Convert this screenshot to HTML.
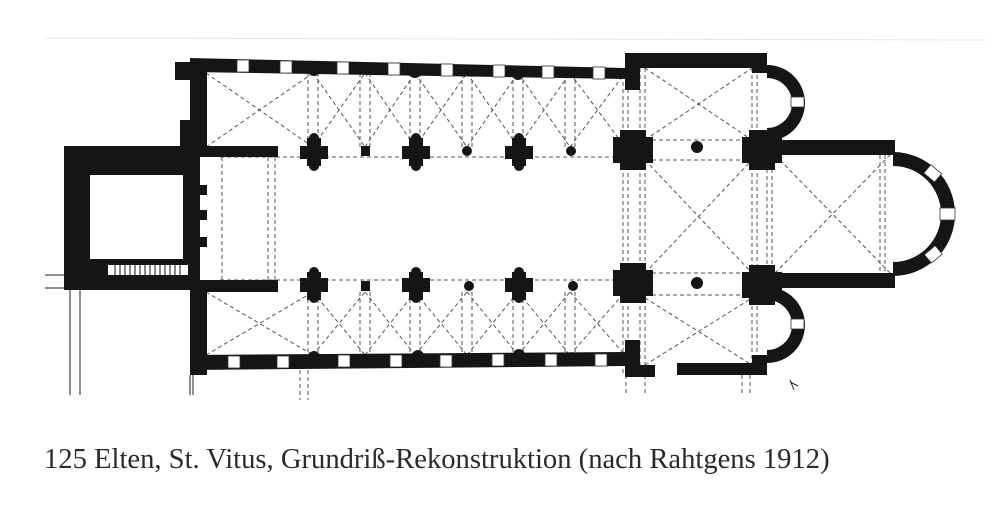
<!DOCTYPE html>
<html><head><meta charset="utf-8"><style>
html,body{margin:0;padding:0;background:#fff;width:1000px;height:517px;overflow:hidden}
svg{position:absolute;left:0;top:0}
.cap{position:absolute;left:44px;top:444px;font-family:"Liberation Serif",serif;font-size:28.6px;color:#2a2a2a;white-space:nowrap}
</style></head><body>
<svg width="1000" height="517" viewBox="0 0 1000 517">
<line x1="45" y1="38" x2="985" y2="40" stroke="#e6e6e6" stroke-width="1"/>
<g fill="none" stroke="#555" stroke-width="1" stroke-dasharray="4,3">
<path d="M206 73 L313 147 M206 147 L313 73 M313 73 L365 147 M313 147 L365 73 M365 73 L415 147 M365 147 L415 73 M415 73 L467 147 M415 147 L467 73 M467 73 L518 147 M467 147 L518 73 M518 73 L570 147 M518 147 L570 73 M570 73 L625 147 M570 147 L625 73"/>
<path d="M206 292 L313 355 M206 355 L313 292 M313 292 L365 355 M313 355 L365 292 M365 292 L415 355 M365 355 L415 292 M415 292 L467 355 M415 355 L467 292 M467 292 L518 355 M467 355 L518 292 M518 292 L570 355 M518 355 L570 292 M570 292 L625 355 M570 355 L625 292"/>
<path d="M308 73V147 M318 73V147 M360 73V147 M370 73V147 M410 73V147 M420 73V147 M462 73V147 M472 73V147 M513 73V147 M523 73V147 M565 73V147 M575 73V147"/>
<path d="M308 292V355 M318 292V355 M360 292V355 M370 292V355 M410 292V355 M420 292V355 M462 292V355 M472 292V355 M513 292V355 M523 292V355 M565 292V355 M575 292V355"/>
<path d="M220 157H625 M220 280H625 M268 157V280 M275 157V280 M222 157V280 M195 90V125 M200 90V125"/>
<path d="M645 68 L752 140 M645 140 L752 68 M645 298 L752 365 M645 365 L752 298 M645 160 L752 273 M645 273 L752 160 M775 155 L890 273 M775 273 L890 155"/>
<path d="M623 68V375 M628 68V375 M640 68V375 M645 68V375 M752 68V375 M757 68V375 M767 155V273 M772 155V273 M885 155V273 M880 155V273 M645 140H752 M645 160H752 M645 273H752 M645 295H752"/>
<path d="M300 370V400 M308 370V400 M626 375V395 M645 375V395 M742 375V395 M750 375V395"/>
</g>
<g fill="#151515">
<path fill-rule="evenodd" d="M64 146H200V290H64Z M90 175H183V259H90Z"/>
<rect x="108" y="265" width="80" height="10" fill="#fff"/>
<g stroke="#151515" stroke-width="1"><path d="M115 265v10M120 265v10M125 265v10M130 265v10M135 265v10M140 265v10M145 265v10M150 265v10M155 265v10M160 265v10M165 265v10M170 265v10M175 265v10M180 265v10"/></g>
<rect x="183" y="185" width="24" height="10"/><rect x="183" y="210" width="24" height="10"/><rect x="183" y="237" width="24" height="10"/>
<rect x="190" y="60" width="17" height="95"/><rect x="175" y="62" width="30" height="18"/>
<rect x="180" y="120" width="25" height="35"/>
<rect x="190" y="280" width="17" height="95"/>
<polygon points="190,58 625,68 625,79 190,72"/>
<polygon points="190,355 625,352 625,366 190,370"/>
<rect x="200" y="146" width="78" height="11"/>
<rect x="200" y="280" width="78" height="12"/>
<g>
<rect x="300" y="146" width="28" height="13"/><rect x="307" y="138" width="14" height="28"/><circle cx="314" cy="138" r="5"/><circle cx="314" cy="166" r="5"/>
<rect x="402" y="146" width="28" height="13"/><rect x="409" y="138" width="14" height="28"/><circle cx="416" cy="138" r="5"/><circle cx="416" cy="166" r="5"/>
<rect x="505" y="146" width="28" height="13"/><rect x="512" y="138" width="14" height="28"/><circle cx="519" cy="138" r="5"/><circle cx="519" cy="166" r="5"/>
<rect x="361" y="146" width="9" height="10"/><circle cx="467" cy="151" r="5"/><circle cx="571" cy="151" r="5"/>
<rect x="300" y="278" width="28" height="14"/><rect x="307" y="272" width="14" height="28"/><circle cx="314" cy="272" r="5"/><circle cx="314" cy="298" r="5"/>
<rect x="402" y="278" width="28" height="14"/><rect x="409" y="272" width="14" height="28"/><circle cx="416" cy="272" r="5"/><circle cx="416" cy="298" r="5"/>
<rect x="505" y="278" width="28" height="14"/><rect x="512" y="272" width="14" height="28"/><circle cx="519" cy="272" r="5"/><circle cx="519" cy="298" r="5"/>
<rect x="361" y="281" width="9" height="10"/><circle cx="469" cy="286" r="5"/><circle cx="573" cy="286" r="5"/>
<circle cx="314" cy="70" r="6"/><circle cx="415" cy="72" r="6"/><circle cx="518" cy="74" r="6"/><circle cx="314" cy="357" r="6"/><circle cx="418" cy="356" r="6"/><circle cx="519" cy="355" r="6"/>
</g>
<rect x="625" y="53" width="142" height="15"/><rect x="625" y="53" width="15" height="37"/><rect x="752" y="53" width="15" height="20"/>
<path fill-rule="evenodd" d="M767 65 A38 38 0 0 1 767 141 L767 128 A25 25 0 0 0 767 78 Z"/>
<g>
<rect x="613" y="137" width="40" height="26"/><rect x="620" y="130" width="26" height="40"/>
<rect x="742" y="137" width="40" height="26"/><rect x="749" y="130" width="26" height="40"/>
<rect x="613" y="270" width="40" height="26"/><rect x="620" y="263" width="26" height="40"/>
<rect x="742" y="272" width="40" height="26"/><rect x="749" y="265" width="26" height="40"/>
<circle cx="697" cy="147" r="6"/><circle cx="697" cy="283" r="6"/>
</g>
<rect x="762" y="140" width="133" height="15"/><rect x="762" y="273" width="133" height="15"/>
<path fill-rule="evenodd" d="M893 152 A62 62 0 0 1 893 276 L893 262 A48 48 0 0 0 893 166 Z"/>
<rect x="625" y="365" width="30" height="12"/><rect x="677" y="363" width="90" height="12"/><rect x="625" y="340" width="15" height="37"/><rect x="752" y="355" width="15" height="20"/>
<path fill-rule="evenodd" d="M767 287 A38 38 0 0 1 767 363 L767 350 A25 25 0 0 0 767 300 Z"/>
</g>
<g fill="#fff" stroke="#333" stroke-width="0.8">
<rect x="237" y="60" width="12" height="12"/><rect x="280" y="61" width="12" height="12"/><rect x="337" y="62" width="12" height="12"/><rect x="388" y="63" width="12" height="12"/><rect x="441" y="64" width="12" height="12"/><rect x="493" y="65" width="12" height="12"/><rect x="542" y="66" width="12" height="12"/><rect x="593" y="67" width="12" height="12"/>
<rect x="228" y="356" width="12" height="12"/><rect x="277" y="356" width="12" height="12"/><rect x="338" y="355" width="12" height="12"/><rect x="390" y="355" width="12" height="12"/><rect x="440" y="355" width="12" height="12"/><rect x="492" y="354" width="12" height="12"/><rect x="545" y="354" width="12" height="12"/><rect x="595" y="354" width="12" height="12"/>
<rect x="791" y="97" width="13" height="10"/><rect x="791" y="319" width="13" height="10"/>
<rect x="940" y="208" width="15" height="12"/>
<rect x="926" y="168" width="14" height="11" transform="rotate(40 933 173)"/>
<rect x="926" y="249" width="14" height="11" transform="rotate(-40 933 254)"/>
</g>
<g stroke="#222" stroke-width="1"><path d="M45 275H64 M45 288H64 M70 290V395 M80 290V395 M190 375V395 M193 375V395 M790 380l4 10 M790 382l8 4"/></g>
</svg>
<div class="cap">125 Elten, St. Vitus, Grundriß-Rekonstruktion (nach Rahtgens 1912)</div>
</body></html>
